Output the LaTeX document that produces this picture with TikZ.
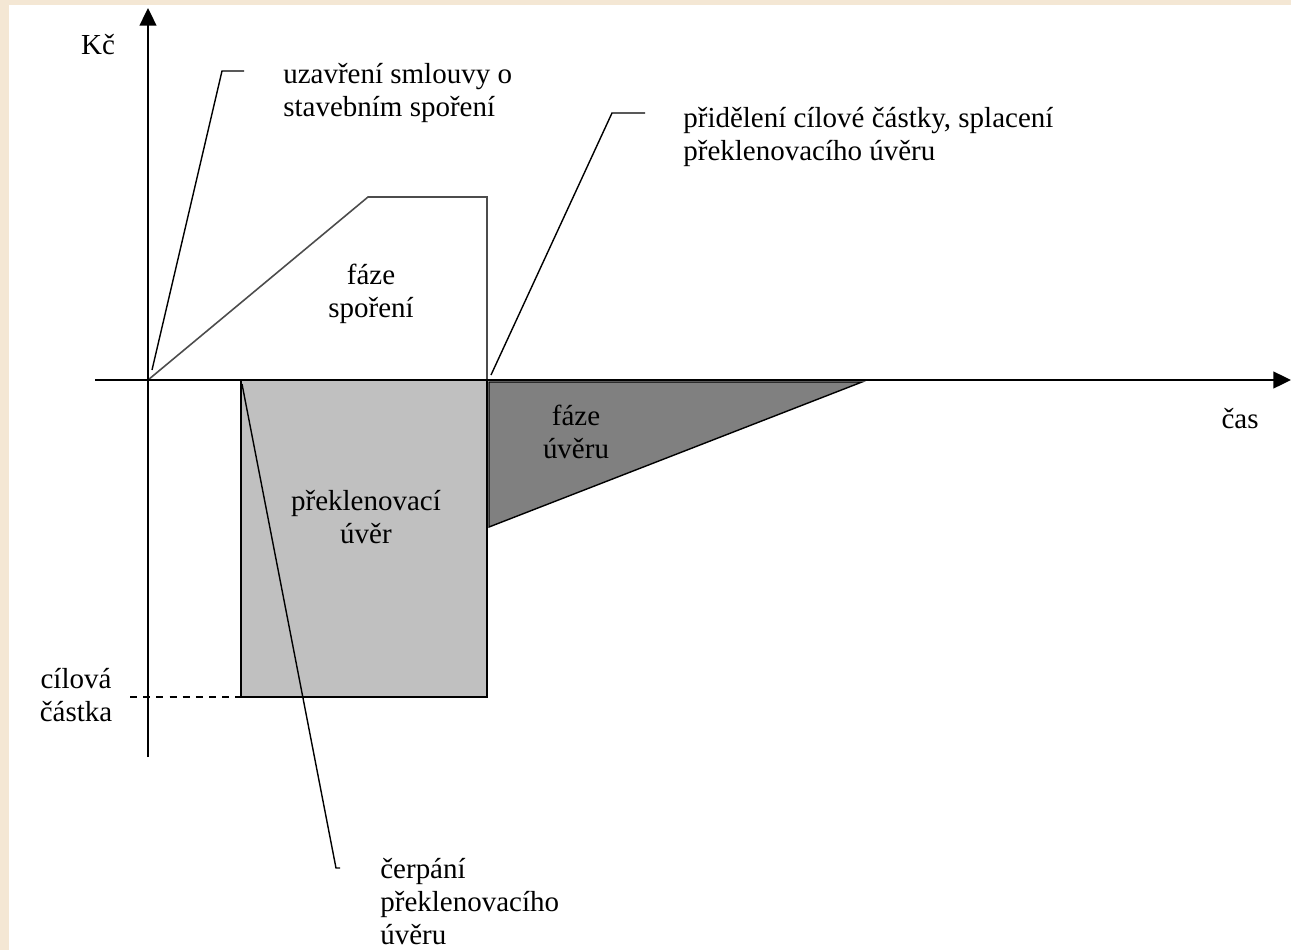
\documentclass[tikz,border=0pt]{standalone}
\usepackage{fontspec}
\setmainfont{Liberation Serif}
\usepackage{tikz}
\usepackage{xcolor}
\usetikzlibrary{arrows.meta, positioning, calc}
\definecolor{pageframe}{RGB}{244,231,212}
\definecolor{bridgegray}{RGB}{192,192,192}
\definecolor{loangray}{RGB}{128,128,128}

\begin{document}
\begin{tikzpicture}[x=0.02cm, y=-0.02cm,
    lbl/.style={font=\fontsize{16.5}{18.8}\selectfont, inner sep=0pt},
    leader/.style={line width=0.8pt},
    axis/.style={line width=1.1pt, -{Triangle[length=10pt, width=9.5pt]}}]
    % frame of the page
    \fill[pageframe] (0,0) rectangle (1291,950);
    \fill[white] (9,5) rectangle (1291,950);
    \useasboundingbox (0,0) rectangle (1291,950);

    % key points
    \coordinate (origin) at (148,380);
    \coordinate (draw1) at (241,380);
    \coordinate (repay) at (487,380);
    \coordinate (target) at (241,697);

    % areas
    \filldraw[fill=bridgegray, line width=0.8pt] (draw1) rectangle (487,697);
    \filldraw[fill=loangray, line width=0.8pt] (489,382) -- (862,382) -- (489,527) -- cycle;
    \draw[black!70, line width=0.9pt] (origin) -- (368,197) -- (487,197) -- (repay);
    \draw[dashed, dash pattern=on 4pt off 3.5pt, line width=0.7pt] (130,697) -- (target);

    % axes
    \draw[axis] (95,380) -- (1291,380);
    \draw[axis] (148,757) -- (148,8);

    % labels
    \node[lbl] (kc) at (98,45) {Kč};
    \node[lbl] (cas) at (1240,419) {čas};
    \node[lbl, align=center] (saving) at (371,294) {fáze\\spoření};
    \node[lbl, align=center] (loan) at (576,432) {fáze\\úvěru};
    \node[lbl, align=center] (bridge) at (366,517) {překlenovací\\úvěr};
    \node[lbl, align=center] (amount) at (76,695) {cílová\\částka};
    \node[lbl, anchor=west, align=left] (contract) at (283,93) {uzavření smlouvy o\\stavebním spoření};
    \node[lbl, anchor=west, align=left] (allot) at (683,137) {přidělení cílové částky, splacení\\překlenovacího úvěru};
    \node[lbl, anchor=north west, align=left] (drawing) at (380,858) {čerpání\\překlenovacího\\úvěru};

    % leader lines
    \coordinate (k1) at (222,71);
    \coordinate (k2) at (612,113);
    \coordinate (k3) at (336,868);
    \draw[leader] (152,370) -- (k1) -- (244,71);
    \draw[leader] (491,375) -- (k2) -- (645,113);
    \draw[leader] (242,384) -- (k3) -- (340,868);
\end{tikzpicture}
\end{document}
